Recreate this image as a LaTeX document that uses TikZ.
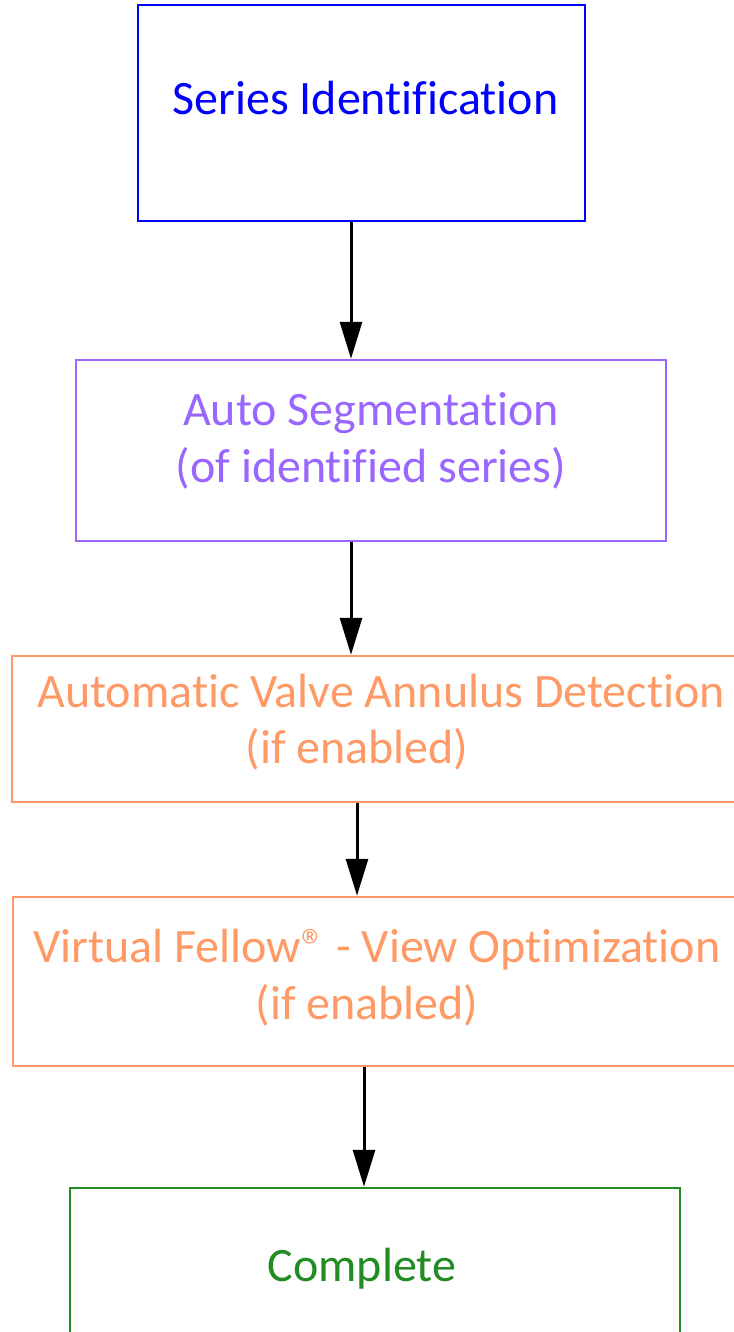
\documentclass[tikz,border=0pt]{standalone}
\usepackage{fontspec}
\setmainfont{Carlito}[Ligatures=NoCommon]
\usepackage{xcolor}
\usetikzlibrary{arrows.meta,positioning}
\definecolor{seriesblue}{HTML}{0000FF}
\definecolor{segpurple}{HTML}{9966FF}
\definecolor{stageorange}{HTML}{FF9966}
\definecolor{donegreen}{HTML}{228B22}

\begin{document}
\begin{tikzpicture}[x=1pt, y=1pt,
  stepbox/.style={draw, rectangle, line width=2.5pt, inner sep=0pt, align=center,
    font=\fontsize{48}{56.5}\selectfont},
  flowarrow/.style={-{Triangle[length=37pt,width=22pt]}, line width=3pt, black}]
\useasboundingbox (0,0) rectangle (733,-1332);
% the five stages
\node[stepbox, seriesblue, minimum width=447pt, minimum height=216pt, text depth=30pt] (series) at (361.5,-113) {\hspace*{8pt}Series Identification};
\node[stepbox, segpurple, minimum width=590pt, minimum height=181pt, text depth=26pt] (autoseg) at (371,-450.5) {Auto Segmentation\\(of identified series)};
\node[stepbox, stageorange, minimum width=738pt, minimum height=146pt, text depth=20pt] (annulus) at (381,-729) {Automatic Valve Annulus Detection\\(if enabled)\hspace*{48pt}};
\node[stepbox, stageorange, minimum width=728pt, minimum height=169pt, text depth=14pt] (viewopt) at (377,-981.5) {Virtual Fellow® - View Optimization\\(if enabled)\hspace*{20pt}};
\node[stepbox, donegreen, minimum width=610pt, minimum height=174pt, text depth=20pt] (complete) at (375,-1275) {Complete\hspace*{26pt}};
% arrows between stages
\draw[flowarrow] ([xshift=-10.5pt]series.south) -- ([xshift=-10.5pt]series.south |- autoseg.north);
\draw[flowarrow] ([xshift=-20pt]autoseg.south) -- ([xshift=-20pt]autoseg.south |- annulus.north);
\draw[flowarrow] ([xshift=-24pt]annulus.south) -- ([xshift=-24pt]annulus.south |- viewopt.north);
\draw[flowarrow] ([xshift=-13pt]viewopt.south) -- ([xshift=-13pt]viewopt.south |- complete.north);
\end{tikzpicture}
\end{document}
